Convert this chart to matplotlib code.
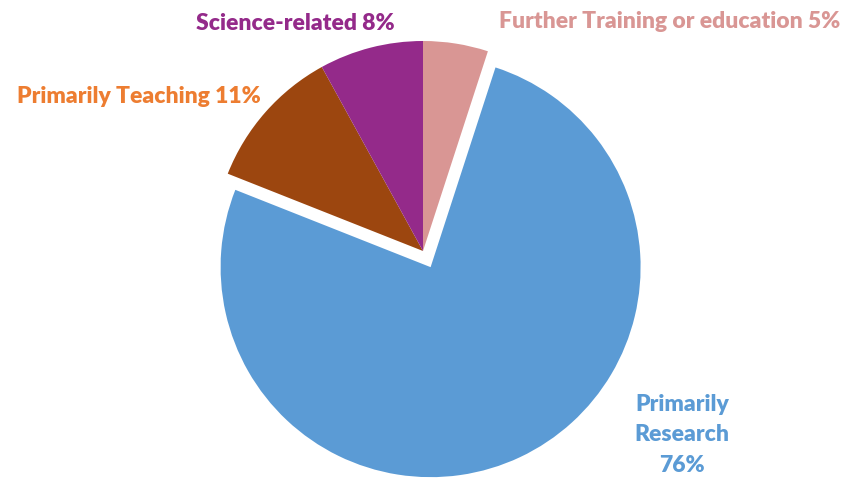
import matplotlib
matplotlib.use("Agg")
import matplotlib.pyplot as plt

# data
labels = ["Further Training or education", "Primarily Research",
          "Primarily Teaching", "Science-related"]
shares = [5, 76, 11, 8]
colors = ["#D99694", "#5B9BD5", "#9C460F", "#942A8A"]
label_colors = ["#D99694", "#5B9BD5", "#ED7D31", "#942A8A"]
explode = [0, 0.085, 0, 0]

W, H = 858, 485
cx, cy, r = 423, 252, 210  # pie centre / radius in pixels

fig = plt.figure(figsize=(W / 100, H / 100), dpi=100)
ax = fig.add_axes([0, 0, 1, 1])
ax.pie(shares, colors=colors, explode=explode, startangle=90,
       counterclock=False, radius=1, wedgeprops=dict(linewidth=0))
ax.set_xlim(-cx / r, (W - cx) / r)
ax.set_ylim(-(H - cy) / r, cy / r)
ax.axis("off")

font = dict(family=["Lato", "DejaVu Sans"], weight="heavy", fontsize=16.5)
text_pos = [(670, 21, "center"), (682, 435, "center"),
            (139, 97, "center"), (295, 23, "center")]
for lab, s, c, (x, y, ha) in zip(labels, shares, label_colors, text_pos):
    txt = f"{lab} {s}%"
    if lab == "Primarily Research":
        txt = f"Primarily\nResearch\n{s}%"
    fig.text(x / W, 1 - y / H, txt, color=c, ha=ha, va="center",
             linespacing=1.55, **font)

fig.savefig("out.png", dpi=100)
